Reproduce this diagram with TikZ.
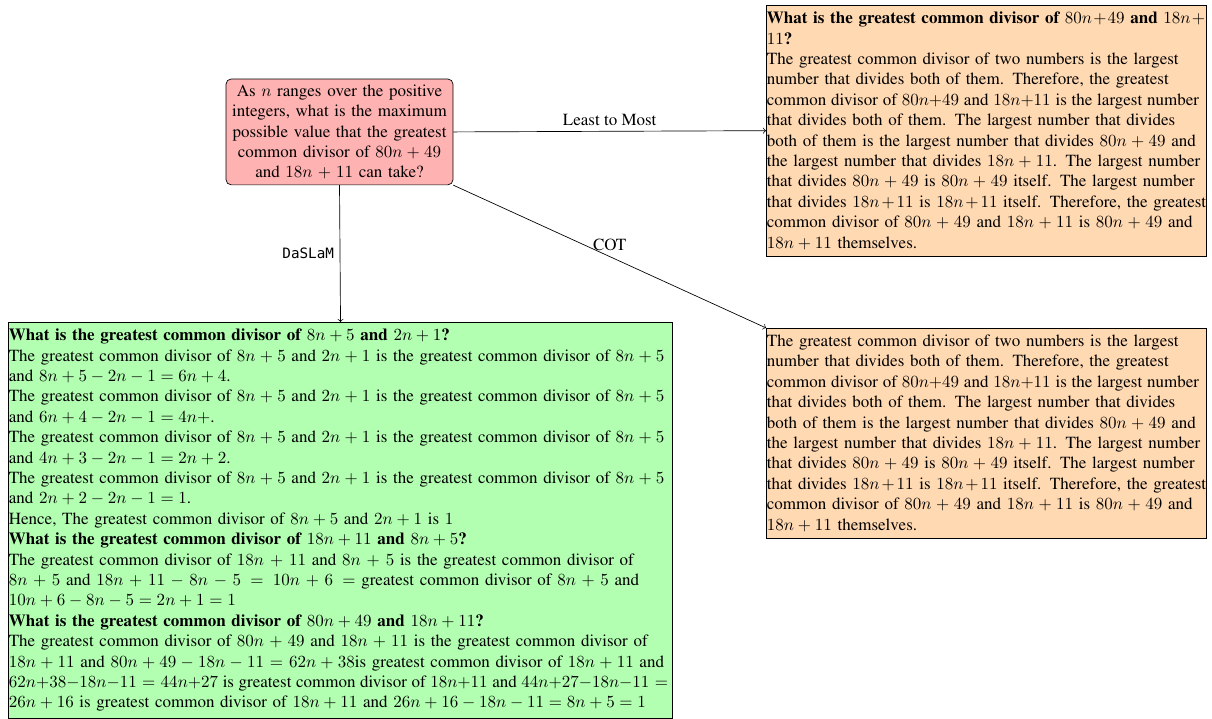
\documentclass[tikz,border=0pt]{standalone}
\usepackage{amsmath}
\usepackage{amssymb}
\usepackage[no-math]{fontspec}
\newfontfamily\daslamfont[Scale=0.84]{DejaVu Sans Mono}
\renewcommand{\encodingdefault}{OT1}
\renewcommand{\rmdefault}{ptm}
\renewcommand{\familydefault}{\rmdefault}
\usepackage{tikz}
\hyphenpenalty=10000

\newcommand{\qhead}{\textbf{What is the greatest common divisor of}}

\begin{document}
\begin{tikzpicture}[
    qbox/.style={draw, fill=red!30, rounded corners=3pt, align=center, text width=127.5pt, inner xsep=3pt, inner ysep=3.3pt},
    abox/.style={draw, align=left, anchor=north west, inner xsep=0.3pt, inner ysep=3.9pt}
  ]
    \useasboundingbox (0,0) rectangle (712.9pt,-422.4pt);

    \node[qbox] (q) at (199.7pt,-77.6pt) {As $n$ ranges over the positive integers, what is the maximum
      possible value that the greatest common divisor of $80n+49$ and $18n+11$ can take?};

    \node[abox, fill=orange!30, text width=258.4pt] (ltm) at (450.6pt,-2.9pt) {\qhead{} $80n+49$ \textbf{and} $18n+{}$\linebreak
      $11$\textbf{?}\\
      The greatest common divisor of two numbers is the largest\linebreak
      number that divides both of them. Therefore, the greatest\linebreak
      {\spaceskip=0pt common divisor of $80n{+}49$ and $18n{+}11$ is the largest number}\linebreak
      that divides both of them. The largest number that divides\linebreak
      both of them is the largest number that divides $80n+49$ and\linebreak
      the largest number that divides $18n+11$. The largest number\linebreak
      that divides $80n+49$ is $80n+49$ itself. The largest number\linebreak
      that divides $18n+11$ is $18n+11$ itself. Therefore, the greatest\linebreak
      common divisor of $80n+49$ and $18n+11$ is $80n+49$ and\linebreak
      $18n+11$ themselves.};

    \node[abox, fill=orange!30, text width=258.4pt] (cot) at (450.6pt,-192.9pt) {The greatest common divisor of two numbers is the largest\linebreak
      number that divides both of them. Therefore, the greatest\linebreak
      {\spaceskip=0pt common divisor of $80n{+}49$ and $18n{+}11$ is the largest number}\linebreak
      that divides both of them. The largest number that divides\linebreak
      both of them is the largest number that divides $80n+49$ and\linebreak
      the largest number that divides $18n+11$. The largest number\linebreak
      that divides $80n+49$ is $80n+49$ itself. The largest number\linebreak
      that divides $18n+11$ is $18n+11$ itself. Therefore, the greatest\linebreak
      common divisor of $80n+49$ and $18n+11$ is $80n+49$ and\linebreak
      $18n+11$ themselves.};

    \node[abox, fill=green!30, text width=390.2pt] (daslam) at (4.7pt,-189.4pt) {\qhead{} $8n+5$ \textbf{and} $2n+1$\textbf{?}\\
      The greatest common divisor of $8n+5$ and $2n+1$ is the greatest common divisor of $8n+5$\linebreak
      and $8n+5-2n-1=6n+4$.\\
      The greatest common divisor of $8n+5$ and $2n+1$ is the greatest common divisor of $8n+5$\linebreak
      and $6n+4-2n-1=4n+$.\\
      The greatest common divisor of $8n+5$ and $2n+1$ is the greatest common divisor of $8n+5$\linebreak
      and $4n+3-2n-1=2n+2$.\\
      The greatest common divisor of $8n+5$ and $2n+1$ is the greatest common divisor of $8n+5$\linebreak
      and $2n+2-2n-1=1$.\\
      Hence, The greatest common divisor of $8n+5$ and $2n+1$ is $1$\\
      \qhead{} $18n+11$ \textbf{and} $8n+5$\textbf{?}\\
      The greatest common divisor of $18n+11$ and $8n+5$ is the greatest common divisor of\linebreak
      $8n+5$ and $18n+11-8n-5 = 10n+6 =$ greatest common divisor of $8n+5$ and\linebreak
      $10n+6-8n-5=2n+1=1$\\
      \qhead{} $80n+49$ \textbf{and} $18n+11$\textbf{?}\\
      The greatest common divisor of $80n+49$ and $18n+11$ is the greatest common divisor of\linebreak
      $18n+11$ and $80n+49-18n-11=62n+38$is greatest common divisor of $18n+11$ and\linebreak
      {\spaceskip=0pt $62n{+}38{-}18n{-}11 = 44n{+}27$ is greatest common divisor of $18n{+}11$ and $44n{+}27{-}18n{-}11 =$}\linebreak
      $26n+16$ is greatest common divisor of $18n+11$ and $26n+16-18n-11=8n+5=1$};

    \draw[->] (q.east) -- node[above]{Least to Most} (ltm.west);
    \draw[->] (q.south east) -- node[midway, above]{COT} (cot.north west);
    \draw[->] (q.south) -- node[midway, left]{\daslamfont DaSLaM} (daslam.north);
\end{tikzpicture}
\end{document}
